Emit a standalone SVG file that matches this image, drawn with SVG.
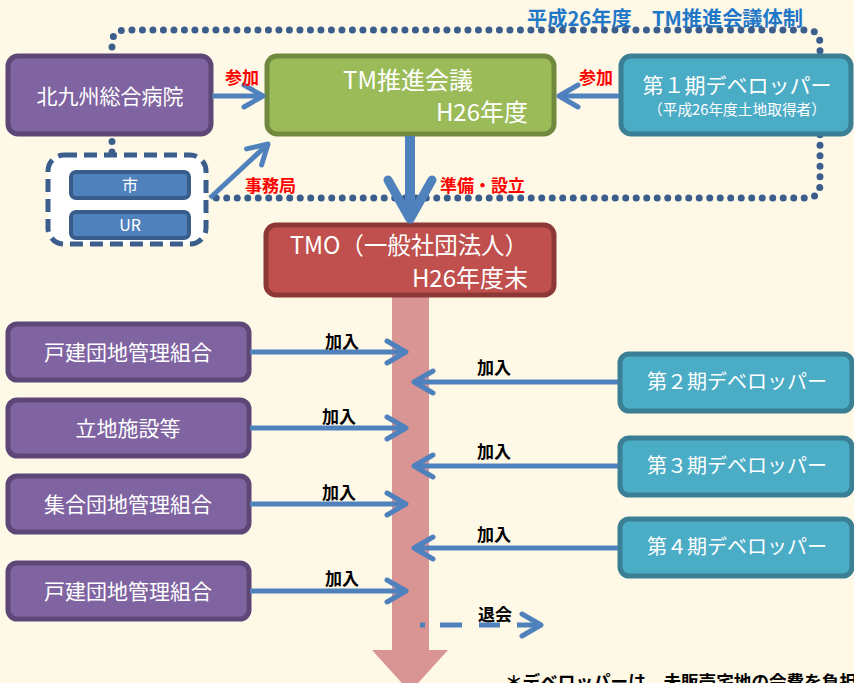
<svg xmlns="http://www.w3.org/2000/svg" width="854" height="683" viewBox="0 0 854 683">
<defs>
<style>
text{font-family:"Noto Sans CJK JP","Noto Sans",sans-serif;}
.w{fill:#fff;text-anchor:middle;}
.red{fill:#FF0000;font-weight:bold;font-size:17px;}
.blk{fill:#000;font-weight:bold;font-size:17px;}
.pur{fill:#8064A2;stroke:#5C4776;stroke-width:5;}
.teal{fill:#4BACC6;stroke:#3A7F93;stroke-width:5;}
.con{stroke:#4F81BD;stroke-width:5;fill:none;}
</style>
<marker id="ah" markerUnits="userSpaceOnUse" viewBox="-24 -14 28 28" refX="0" refY="0" markerWidth="28" markerHeight="28" orient="auto">
<path d="M-19,-11 L0,0 L-19,11" fill="none" stroke="#4F81BD" stroke-width="5" stroke-linecap="round" stroke-linejoin="round"/>
</marker>
</defs>
<rect width="854" height="683" fill="#FEF8E6"/>

<text x="527" y="26" fill="#1F77C8" font-weight="bold" font-size="20" textLength="276" lengthAdjust="spacingAndGlyphs">平成26年度　TM推進会議体制</text>

<g id="dotted-frame">
<path d="M112,152 L112,44 Q112,30 126,30 L806,30 Q820,30 820,44 L820,184 Q820,198 806,198 L214,198" fill="none" stroke="#3B5E8C" stroke-width="7" stroke-linecap="round" stroke-dasharray="0 10.5"/>
</g>

<g id="pink-bar">
<rect x="392" y="294" width="37" height="357" fill="#D99594"/>
<polygon points="372,650 448,650 410,692" fill="#D99594"/>
</g>

<g id="hospital">
<rect class="pur" x="8" y="56" width="203" height="78" rx="10"/>
<text class="w" x="110" y="104" font-size="21">北九州総合病院</text>
</g>

<g id="tm-meeting">
<rect x="267" y="56" width="287" height="78" rx="10" fill="#9BBB59" stroke="#71893F" stroke-width="5"/>
<text class="w" x="408" y="89" font-size="24">TM推進会議</text>
<text x="528" y="121" font-size="24" fill="#fff" text-anchor="end">H26年度</text>
</g>

<g id="developer1">
<rect class="teal" x="621" y="56" width="230" height="78" rx="10"/>
<text class="w" x="737" y="93" font-size="21">第１期デベロッパー</text>
<text class="w" x="737" y="115" font-size="15" textLength="178" lengthAdjust="spacingAndGlyphs">（平成26年度土地取得者）</text>
</g>

<g id="city-ur">
<rect x="48" y="155" width="158" height="89" rx="16" fill="#fff" stroke="#3B5E8C" stroke-width="5" stroke-dasharray="13 7"/>
<g id="city">
<rect x="71" y="172" width="118" height="26" rx="5" fill="#4F81BD" stroke="#385D8A" stroke-width="4"/>
<text class="w" x="130" y="191" font-size="16">市</text>
</g>
<g id="ur">
<rect x="71" y="212" width="118" height="26" rx="5" fill="#4F81BD" stroke="#385D8A" stroke-width="4"/>
<text class="w" x="130" y="231" font-size="16">UR</text>
</g>
</g>

<g id="tmo">
<rect x="266" y="225" width="288" height="70" rx="10" fill="#C0504D" stroke="#8C3836" stroke-width="5"/>
<text x="290" y="254" font-size="24" fill="#fff" textLength="238" lengthAdjust="spacingAndGlyphs">TMO（一般社団法人）</text>
<text x="528" y="287" font-size="24" fill="#fff" text-anchor="end">H26年度末</text>
</g>

<g id="member1"><rect class="pur" x="8" y="324" width="241" height="56" rx="9"/><text class="w" x="128" y="360" font-size="21">戸建団地管理組合</text></g>
<g id="member2"><rect class="pur" x="8" y="400" width="241" height="56" rx="9"/><text class="w" x="128" y="436" font-size="21">立地施設等</text></g>
<g id="member3"><rect class="pur" x="8" y="476" width="241" height="56" rx="9"/><text class="w" x="128" y="512" font-size="21">集合団地管理組合</text></g>
<g id="member4"><rect class="pur" x="8" y="563" width="241" height="56" rx="9"/><text class="w" x="128" y="599" font-size="21">戸建団地管理組合</text></g>

<g id="developer2"><rect class="teal" x="620" y="354" width="232" height="57" rx="9"/><text class="w" x="737" y="389" font-size="20">第２期デベロッパー</text></g>
<g id="developer3"><rect class="teal" x="620" y="438" width="232" height="57" rx="9"/><text class="w" x="737" y="473" font-size="20">第３期デベロッパー</text></g>
<g id="developer4"><rect class="teal" x="620" y="519" width="232" height="57" rx="9"/><text class="w" x="737" y="554" font-size="20">第４期デベロッパー</text></g>

<g id="connectors">
<line class="con" x1="212" y1="96" x2="263" y2="96" marker-end="url(#ah)"/>
<line class="con" x1="619" y1="96" x2="559" y2="96" marker-end="url(#ah)"/>
<line class="con" x1="210" y1="198" x2="268" y2="144" marker-end="url(#ah)"/>
<line x1="410" y1="136" x2="410" y2="214" stroke="#4F81BD" stroke-width="10"/>
<path d="M388,180 L410,219 L432,180" fill="none" stroke="#4F81BD" stroke-width="9" stroke-linecap="round" stroke-linejoin="round"/>
<line class="con" x1="250" y1="352" x2="406" y2="352" marker-end="url(#ah)"/>
<line class="con" x1="250" y1="428" x2="406" y2="428" marker-end="url(#ah)"/>
<line class="con" x1="250" y1="504" x2="406" y2="504" marker-end="url(#ah)"/>
<line class="con" x1="250" y1="591" x2="406" y2="591" marker-end="url(#ah)"/>
<line class="con" x1="618" y1="382" x2="414" y2="382" marker-end="url(#ah)"/>
<line class="con" x1="618" y1="466" x2="414" y2="466" marker-end="url(#ah)"/>
<line class="con" x1="618" y1="548" x2="414" y2="548" marker-end="url(#ah)"/>
<path d="M420,625 L425,625 M440,625 L462,625 M479,625 L500,625 M517,625 L540,625" class="con"/>
<line x1="538" y1="625" x2="541" y2="625" class="con" marker-end="url(#ah)"/>
</g>

<g id="labels">
<text class="red" x="225" y="84">参加</text>
<text class="red" x="579" y="84">参加</text>
<text class="red" x="245" y="192" font-size="16">事務局</text>
<text class="red" x="440" y="192">準備・設立</text>
<text class="blk" x="325" y="348">加入</text>
<text class="blk" x="322" y="423">加入</text>
<text class="blk" x="322" y="499">加入</text>
<text class="blk" x="325" y="585">加入</text>
<text class="blk" x="477" y="374">加入</text>
<text class="blk" x="477" y="458">加入</text>
<text class="blk" x="477" y="541">加入</text>
<text class="blk" x="478" y="621">退会</text>
<text class="blk" x="505" y="688" font-size="19" textLength="352" lengthAdjust="spacingAndGlyphs">＊デベロッパーは、未販売宅地の会費を負担</text>
</g>
</svg>
